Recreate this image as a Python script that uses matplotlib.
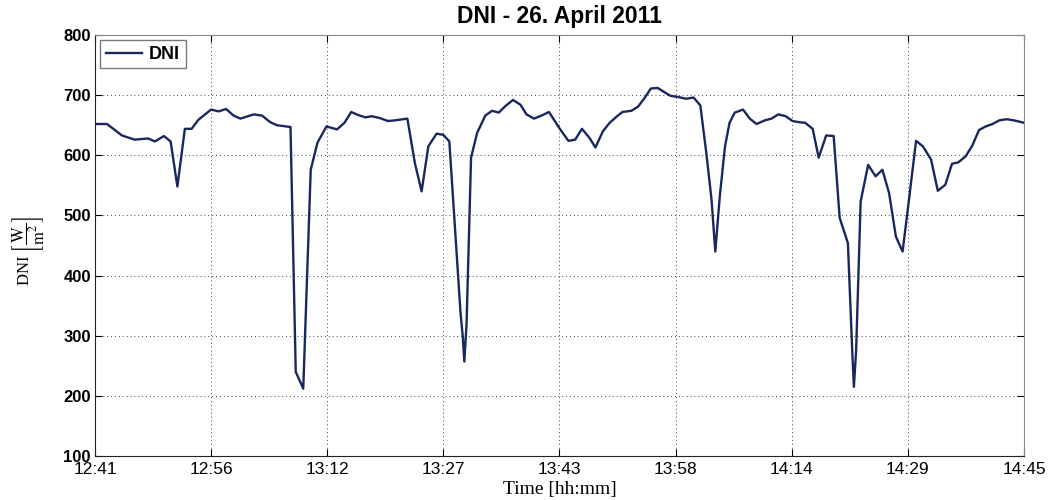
import numpy as np
import matplotlib
matplotlib.use("Agg")
import matplotlib.pyplot as plt

# minutes after 12:41 and DNI values
t_min = [0.0, 1.6, 3.6, 5.3, 7.1, 8.0, 9.2, 10.1, 11.0, 12.0, 12.9, 13.8, 15.5, 16.5,
         17.5, 18.5, 19.4, 21.2, 22.3, 23.4, 24.3, 26.1, 26.8, 27.8, 28.8, 29.7, 30.9,
         32.3, 33.3, 34.2, 35.1, 36.1, 36.9, 38.0, 39.1, 40.0, 41.7, 42.7, 43.6, 44.5,
         45.6, 46.5, 47.3, 48.1, 48.8, 49.1, 49.3, 49.6, 50.2, 51.0, 52.1, 53.0, 53.9,
         54.8, 55.8, 56.8, 57.6, 58.6, 59.6, 60.6, 62.1, 63.2, 64.1, 65.0, 66.0, 66.8,
         67.8, 68.7, 69.6, 70.4, 71.6, 72.5, 73.4, 74.2, 75.1, 76.0, 76.8, 77.8, 78.9,
         79.9, 80.8, 81.6, 82.3, 82.8, 83.4, 84.1, 84.7, 85.4, 86.5, 87.4, 88.3, 89.4,
         90.3, 91.2, 92.2, 93.1, 94.0, 94.8, 95.8, 96.6, 97.6, 98.6, 99.4, 100.5, 100.9,
         101.1, 101.3, 101.6, 102.2, 103.2, 104.2, 105.1, 106.0, 106.9, 107.8, 108.6,
         109.6, 110.5, 111.6, 112.5, 113.5, 114.4, 115.2, 116.2, 117.1, 118.0, 118.9,
         119.8, 120.7, 121.7, 122.7, 124.0]
dni = [652, 652, 633, 626, 628, 623, 632, 623, 548, 644, 644, 659, 676, 673,
       677, 666, 661, 668, 666, 655, 650, 647, 240, 212, 576, 621, 648,
       643, 654, 672, 667, 663, 665, 662, 657, 658, 661, 587, 540, 615,
       636, 634, 623, 471, 337, 298, 257, 320, 596, 637, 666, 674, 671,
       682, 692, 684, 668, 661, 666, 672, 643, 624, 626, 644, 629, 613,
       640, 654, 664, 672, 674, 681, 696, 711, 712, 705, 699, 697, 694,
       696, 683, 604, 526, 440, 532, 615, 654, 671, 676, 661, 652, 658,
       661, 668, 665, 657, 655, 654, 644, 596, 633, 632, 496, 454, 332,
       268, 215, 276, 523, 584, 565, 576, 537, 465, 440, 521,
       624, 615, 593, 541, 551, 586, 588, 598, 616, 642, 648,
       652, 658, 660, 658, 654]

tick_pos = np.linspace(0, 124, 9)
tick_labels = ["12:41", "12:56", "13:12", "13:27", "13:43", "13:58", "14:14", "14:29", "14:45"]

plt.rcParams['mathtext.fontset'] = 'stix'

fig = plt.figure(figsize=(10.54, 5.0), dpi=100)
ax = fig.add_axes([0.0901, 0.088, 0.8814, 0.842])

ax.plot(t_min, dni, color='#18285f', lw=1.7, label='DNI')

ax.set_xlim(0, 124)
ax.set_ylim(100, 800)
ax.set_xticks(tick_pos)
ax.set_xticklabels(tick_labels, family='Liberation Sans', fontsize=12.5)
ax.set_yticks(range(100, 801, 100))
for lab in ax.get_yticklabels():
    lab.set_family('Liberation Sans')
    lab.set_fontweight('bold')
    lab.set_fontsize(12)

ax.tick_params(direction='in', top=True, right=True, length=5, width=0.8)
ax.tick_params(axis='x', pad=4)
ax.tick_params(axis='y', pad=3)
ax.grid(True, linestyle=(0, (1, 3)), color='#444444', lw=0.7)

for s in ['top', 'right']:
    ax.spines[s].set_color('#888888')
for s in ['bottom', 'left']:
    ax.spines[s].set_color('#222222')

ax.set_xlabel('Time [hh:mm]', family='Liberation Serif', fontsize=14, labelpad=3)
ax.set_ylabel(r'DNI $\left[\dfrac{\mathrm{W}}{\mathrm{m}^2}\right]$', family='Liberation Serif',
              fontsize=12)
ax.yaxis.set_label_coords(-0.052, 0.487)
ax.set_title('DNI - 26. April 2011', family='Liberation Sans', fontweight='bold',
             fontsize=16.5, pad=9)

leg = ax.legend(loc='upper left', prop={'family': 'Liberation Sans', 'weight': 'bold', 'size': 13},
                fancybox=False, edgecolor='#555555', handlelength=2.0, borderpad=0.3,
                borderaxespad=0.3, handletextpad=0.4)
leg.get_frame().set_linewidth(1.0)

fig.savefig('out.png', dpi=100)
